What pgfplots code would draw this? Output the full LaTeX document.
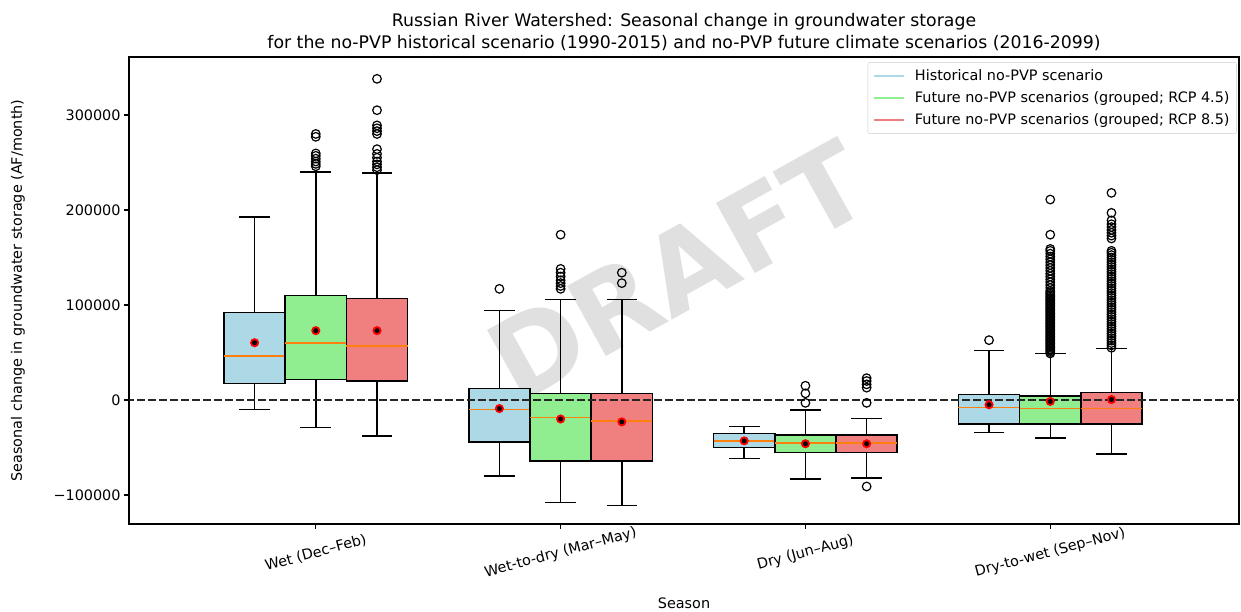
\documentclass[border=0pt]{standalone}
\usepackage{pgfplots}
\pgfplotsset{compat=1.18}
\usetikzlibrary{calc}
\usepackage{fontspec}
\setmainfont{DejaVu Sans}
\definecolor{lblue}{HTML}{ADD8E6}
\definecolor{lgreen}{HTML}{90EE90}
\definecolor{lcoral}{HTML}{F08080}
\definecolor{morange}{HTML}{FF7F0E}
\newcommand{\fs}{\fontsize{14.4}{17.3}\selectfont}
% #1 left edge, #2 position, #3 right edge, #4 lower whisker, #5 lower quartile,
% #6 median, #7 upper quartile, #8 upper whisker, #9 fill colour
\newcommand{\bxp}[9]{%
  \addplot[forget plot, black, line width=1.5pt, mark=-, mark size=15.3pt, mark options={solid}] coordinates {(#2,#4) (#2,#5)};
  \addplot[forget plot, black, line width=1.5pt, mark=-, mark size=15.3pt, mark options={solid}] coordinates {(#2,#7) (#2,#8)};
  \addplot[forget plot, draw=black, fill=#9, line width=1.5pt] coordinates {(#1,#5) (#3,#5) (#3,#7) (#1,#7)} -- cycle;
  \addplot[forget plot, morange, line width=1.6pt] coordinates {(#1,#6) (#3,#6)};
}
\begin{document}
\begin{tikzpicture}
\begin{axis}[
  scale only axis, width=1110pt, height=467pt,
  xmin=-0.763, xmax=3.771, ymin=-130500, ymax=361000,
  axis line style={line width=1.1pt},
  tick pos=left, tick align=outside, major tick length=4.9pt,
  tick style={black, line width=1.1pt},
  tick label style={font=\fs},
  xtick={0,1,2,3},
  xticklabels={Wet (Dec–Feb), Wet-to-dry (Mar–May), Dry (Jun–Aug), Dry-to-wet (Sep–Nov)},
  xticklabel style={yshift=-24pt, rotate=15, anchor=center},
  ytick={-100000,0,100000,200000,300000},
  yticklabels={−100000,0,100000,200000,300000},
  scaled y ticks=false,
  xlabel={Season}, ylabel={Seasonal change in groundwater storage (AF/month)},
  label style={font=\fs},
  xlabel style={at={(axis description cs:0.5,-0.169)}, anchor=center},
  ylabel style={at={(axis description cs:-0.1,0.5)}, anchor=center},
  title={Russian River Watershed: Seasonal change in groundwater storage\\for the no-PVP historical scenario (1990-2015) and no-PVP future climate scenarios (2016-2099)},
  title style={font=\fontsize{17.3}{22}\selectfont, align=center, yshift=-3pt},
  legend style={at={(0.998,0.989)}, anchor=north east, draw=black!20,
    rounded corners=2pt, font=\fs, row sep=5.5pt, column sep=8pt,
    inner xsep=5pt, inner ysep=5.5pt, cells={anchor=west}},
  legend image code/.code={\draw[#1] (0pt,0pt) -- (30pt,0pt);},
]
\node[rotate=29, text=black!12, font=\fontsize{110}{110}\selectfont\bfseries] at (axis cs:1.48,136000) {DRAFT};

% Wet (Dec-Feb)
\bxp{-0.375}{-0.25}{-0.125}{-10200}{17500}{46600}{92300}{192600}{lblue}
\bxp{-0.125}{0}{0.125}{-29000}{21500}{60000}{110000}{240000}{lgreen}
\bxp{0.125}{0.25}{0.375}{-38000}{20000}{57000}{107000}{239000}{lcoral}
% Wet-to-dry (Mar-May)
\bxp{0.625}{0.75}{0.875}{-80000}{-44000}{-10000}{12000}{94000}{lblue}
\bxp{0.875}{1}{1.125}{-108000}{-64000}{-18500}{7000}{106000}{lgreen}
\bxp{1.125}{1.25}{1.375}{-111000}{-64000}{-22000}{7000}{106000}{lcoral}
% Dry (Jun-Aug)
\bxp{1.625}{1.75}{1.875}{-61500}{-50000}{-43000}{-35500}{-28000}{lblue}
\bxp{1.875}{2}{2.125}{-83000}{-55000}{-45000}{-37000}{-10500}{lgreen}
\bxp{2.125}{2.25}{2.375}{-82000}{-55000}{-45000}{-37000}{-19500}{lcoral}
% Dry-to-wet (Sep-Nov)
\bxp{2.625}{2.75}{2.875}{-34000}{-25000}{-8000}{5800}{52000}{lblue}
\bxp{2.875}{3}{3.125}{-40000}{-25000}{-9000}{4000}{49000}{lgreen}
\bxp{3.125}{3.25}{3.375}{-57000}{-25000}{-9000}{7700}{54000}{lcoral}

% outliers
\addplot[forget plot, only marks, mark=o, mark size=4.3pt, mark options={black, line width=1.2pt}] table {
x y
0 246000
0 248500
0 251000
0 254000
0 257000
0 259500
0 277000
0 280000
0.25 242000
0.25 245000
0.25 248000
0.25 251000
0.25 255000
0.25 259000
0.25 264000
0.25 280000
0.25 283000
0.25 286000
0.25 289000
0.25 305000
0.25 338000
0.75 117000
1 117000
1 120000
1 123000
1 126000
1 130000
1 134000
1 138000
1 174000
1.25 123000
1.25 134000
2 -3000
2 7000
2 15000
2.25 -91000
2.25 -3000
2.25 13000
2.25 16500
2.25 20000
2.25 23000
2.75 63000
3 49000
3 50500
3 52000
3 53500
3 55000
3 56500
3 58000
3 59500
3 61000
3 62500
3 64000
3 65500
3 67000
3 68500
3 70000
3 71500
3 73000
3 74500
3 76000
3 77500
3 79000
3 80500
3 82000
3 83500
3 85000
3 86500
3 88000
3 89500
3 91000
3 92500
3 94000
3 95500
3 97000
3 98500
3 100000
3 101500
3 103000
3 104500
3 106000
3 107500
3 109000
3 110500
3 112000
3 113500
3 115000
3 118000
3 121000
3 124000
3 127000
3 130000
3 133000
3 136000
3 139000
3 142000
3 145000
3 148000
3 151000
3 154000
3 157000
3 159000
3 174000
3 211000
3.25 55000
3.25 57500
3.25 60000
3.25 62500
3.25 65000
3.25 67500
3.25 70000
3.25 72500
3.25 75000
3.25 77500
3.25 80000
3.25 82500
3.25 85000
3.25 87500
3.25 90000
3.25 92500
3.25 95000
3.25 97500
3.25 100000
3.25 102500
3.25 105000
3.25 107500
3.25 110000
3.25 112500
3.25 115000
3.25 117500
3.25 120000
3.25 122500
3.25 125000
3.25 127500
3.25 130000
3.25 132500
3.25 135000
3.25 137500
3.25 140000
3.25 142500
3.25 145000
3.25 147500
3.25 150000
3.25 152500
3.25 155000
3.25 157000
3.25 170000
3.25 173000
3.25 176000
3.25 179000
3.25 182000
3.25 185000
3.25 189000
3.25 197000
3.25 218000
};

\addplot[forget plot, black!85, line width=2pt, dash pattern=on 7.7pt off 3.3pt] coordinates {(-1,0) (4,0)};

% means
\addplot[forget plot, only marks, mark=*, mark size=3.6pt, mark options={draw=red, fill=black, line width=1.8pt}] table {
x y
-0.25 60300
0 73000
0.25 73000
0.75 -9000
1 -20000
1.25 -23000
1.75 -43000
2 -46000
2.25 -46000
2.75 -5000
3 -1500
3.25 500
};

\addlegendimage{lblue, line width=2pt}
\addlegendentry{Historical no-PVP scenario}
\addlegendimage{lgreen, line width=2pt}
\addlegendentry{Future no-PVP scenarios (grouped; RCP 4.5)}
\addlegendimage{lcoral, line width=2pt}
\addlegendentry{Future no-PVP scenarios (grouped; RCP 8.5)}
\end{axis}
\path ($(current axis.south west)+(-129pt,-87pt)$) rectangle ($(current axis.north east)+(2pt,57pt)$);
\end{tikzpicture}
\end{document}
